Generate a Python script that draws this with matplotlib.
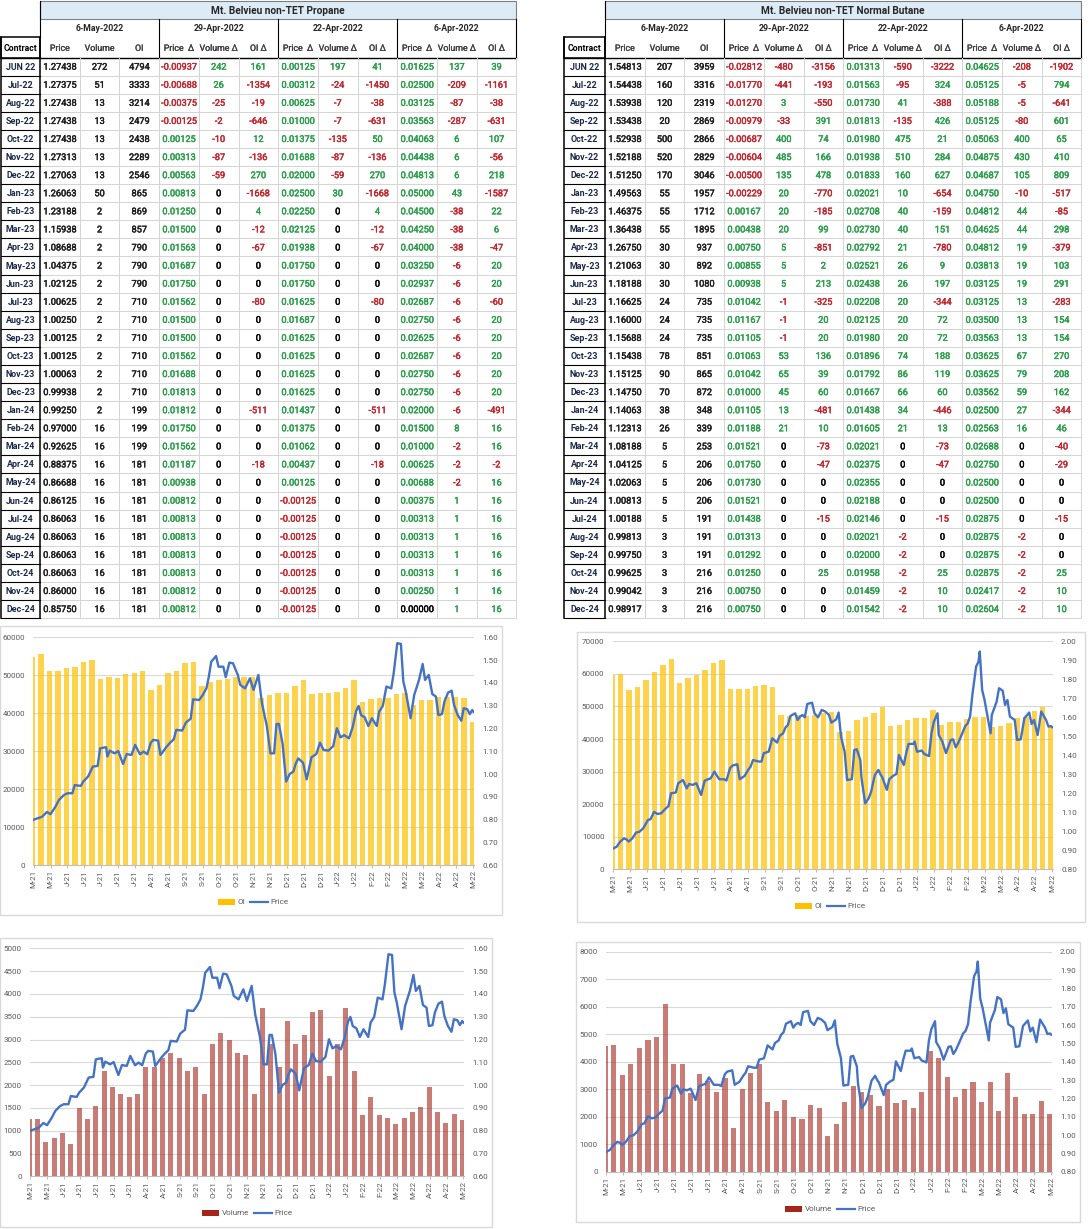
import numpy as np
import pandas as pd
import matplotlib
matplotlib.use("Agg")
import matplotlib.pyplot as plt
import matplotlib.dates as mdates
import matplotlib.patheffects as pe
from matplotlib.patches import Rectangle, Patch
from matplotlib.lines import Line2D
from matplotlib.ticker import FuncFormatter

plt.rcParams['font.family'] = ['Roboto', 'DejaVu Sans']

# ---------------- table data ----------------
contracts = ["JUN 22", "Jul-22", "Aug-22", "Sep-22", "Oct-22", "Nov-22", "Dec-22",
             "Jan-23", "Feb-23", "Mar-23", "Apr-23", "May-23", "Jun-23", "Jul-23",
             "Aug-23", "Sep-23", "Oct-23", "Nov-23", "Dec-23",
             "Jan-24", "Feb-24", "Mar-24", "Apr-24", "May-24", "Jun-24", "Jul-24",
             "Aug-24", "Sep-24", "Oct-24", "Nov-24", "Dec-24"]
date_heads = ["6-May-2022", "29-Apr-2022", "22-Apr-2022", "6-Apr-2022"]
col_heads = ["Price", "Volume", "OI",
             "Price  Δ", "Volume Δ", "OI Δ",
             "Price  Δ", "Volume Δ", "OI Δ",
             "Price  Δ", "Volume Δ", "OI Δ"]

# propane
prop_price = [1.27438, 1.27375, 1.27438, 1.27438, 1.27438, 1.27313, 1.27063,
              1.26063, 1.23188, 1.15938, 1.08688, 1.04375, 1.02125, 1.00625,
              1.00250, 1.00125, 1.00125, 1.00063, 0.99938,
              0.99250, 0.97000, 0.92625, 0.88375, 0.86688, 0.86125, 0.86063,
              0.86063, 0.86063, 0.86063, 0.86000, 0.85750]
prop_vol = [272, 51, 13, 13, 13, 13, 13,
            50, 2, 2, 2, 2, 2, 2, 2, 2, 2, 2, 2,
            2, 16, 16, 16, 16, 16, 16, 16, 16, 16, 16, 16]
prop_oi = [4794, 3333, 3214, 2479, 2438, 2289, 2546,
           865, 869, 857, 790, 790, 790, 710, 710, 710, 710, 710, 710,
           199, 199, 199, 181, 181, 181, 181, 181, 181, 181, 181, 181]
prop_dp1 = [-0.00937, -0.00688, -0.00375, -0.00125, 0.00125, 0.00313, 0.00563,
            0.00813, 0.01250, 0.01500, 0.01563, 0.01687, 0.01750, 0.01562,
            0.01500, 0.01500, 0.01562, 0.01688, 0.01813,
            0.01812, 0.01750, 0.01562, 0.01187, 0.00938, 0.00812, 0.00813,
            0.00813, 0.00813, 0.00813, 0.00812, 0.00812]
prop_dv1 = [242, 26, -25, -2, -10, -87, -59,
            0, 0, 0, 0, 0, 0, 0, 0, 0, 0, 0, 0,
            0, 0, 0, 0, 0, 0, 0, 0, 0, 0, 0, 0]
prop_doi1 = [161, -1354, -19, -646, 12, -136, 270,
             -1668, 4, -12, -67, 0, 0, -80, 0, 0, 0, 0, 0,
             -511, 0, 0, -18, 0, 0, 0, 0, 0, 0, 0, 0]
prop_dp2 = [0.00125, 0.00312, 0.00625, 0.01000, 0.01375, 0.01688, 0.02000,
            0.02500, 0.02250, 0.02125, 0.01938, 0.01750, 0.01750, 0.01625,
            0.01687, 0.01625, 0.01625, 0.01625, 0.01625,
            0.01437, 0.01375, 0.01062, 0.00437, 0.00125, -0.00125, -0.00125,
            -0.00125, -0.00125, -0.00125, -0.00125, -0.00125]
prop_dv2 = [197, -24, -7, -7, -135, -87, -59,
            30, 0, 0, 0, 0, 0, 0, 0, 0, 0, 0, 0,
            0, 0, 0, 0, 0, 0, 0, 0, 0, 0, 0, 0]
prop_doi2 = [41, -1450, -38, -631, 50, -136, 270,
             -1668, 4, -12, -67, 0, 0, -80, 0, 0, 0, 0, 0,
             -511, 0, 0, -18, 0, 0, 0, 0, 0, 0, 0, 0]
prop_dp3 = [0.01625, 0.02500, 0.03125, 0.03563, 0.04063, 0.04438, 0.04813,
            0.05000, 0.04500, 0.04250, 0.04000, 0.03250, 0.02937, 0.02687,
            0.02750, 0.02625, 0.02687, 0.02750, 0.02750,
            0.02000, 0.01500, 0.01000, 0.00625, 0.00688, 0.00375, 0.00313,
            0.00313, 0.00313, 0.00313, 0.00250, 0.00000]
prop_dv3 = [137, -209, -87, -287, 6, 6, 6,
            43, -38, -38, -38, -6, -6, -6, -6, -6, -6, -6, -6,
            -6, 8, -2, -2, -2, 1, 1, 1, 1, 1, 1, 1]
prop_doi3 = [39, -1161, -38, -631, 107, -56, 218,
             -1587, 22, 6, -47, 20, 20, -60, 20, 20, 20, 20, 20,
             -491, 16, 16, -2, 16, 16, 16, 16, 16, 16, 16, 16]

# normal butane
but_price = [1.54813, 1.54438, 1.53938, 1.53438, 1.52938, 1.52188, 1.51250,
             1.49563, 1.46375, 1.36438, 1.26750, 1.21063, 1.18188, 1.16625,
             1.16000, 1.15688, 1.15438, 1.15125, 1.14750,
             1.14063, 1.12313, 1.08188, 1.04125, 1.02063, 1.00813, 1.00188,
             0.99813, 0.99750, 0.99625, 0.99042, 0.98917]
but_vol = [207, 160, 120, 20, 500, 520, 170,
           55, 55, 55, 30, 30, 30, 24, 24, 24, 78, 90, 70,
           38, 26, 5, 5, 5, 5, 5, 3, 3, 3, 3, 3]
but_oi = [3959, 3316, 2319, 2869, 2866, 2829, 3046,
          1957, 1712, 1895, 937, 892, 1080, 735, 735, 735, 851, 865, 872,
          348, 339, 253, 206, 206, 206, 191, 191, 191, 216, 216, 216]
but_dp1 = [-0.02812, -0.01770, -0.01270, -0.00979, -0.00687, -0.00604, -0.00500,
           -0.00229, 0.00167, 0.00438, 0.00750, 0.00855, 0.00938, 0.01042,
           0.01167, 0.01105, 0.01063, 0.01042, 0.01000,
           0.01105, 0.01188, 0.01521, 0.01750, 0.01730, 0.01521, 0.01438,
           0.01313, 0.01292, 0.01250, 0.00750, 0.00750]
but_dv1 = [-480, -441, 3, -33, 400, 485, 135,
           20, 20, 20, 5, 5, 5, -1, -1, -1, 53, 65, 45,
           13, 21, 0, 0, 0, 0, 0, 0, 0, 0, 0, 0]
but_doi1 = [-3156, -193, -550, 391, 74, 166, 478,
            -770, -185, 99, -851, 2, 213, -325, 20, 20, 136, 39, 60,
            -481, 10, -73, -47, 0, 0, -15, 0, 0, 25, 0, 0]
but_dp2 = [0.01313, 0.01563, 0.01730, 0.01813, 0.01980, 0.01938, 0.01833,
           0.02021, 0.02708, 0.02730, 0.02792, 0.02521, 0.02438, 0.02208,
           0.02125, 0.01980, 0.01896, 0.01792, 0.01667,
           0.01438, 0.01605, 0.02021, 0.02375, 0.02355, 0.02188, 0.02146,
           0.02021, 0.02000, 0.01958, 0.01459, 0.01542]
but_dv2 = [-590, -95, 41, -135, 475, 510, 160,
           10, 40, 40, 21, 26, 26, 20, 20, 20, 74, 86, 66,
           34, 21, 0, 0, 0, 0, 0, -2, -2, -2, -2, -2]
but_doi2 = [-3222, 324, -388, 426, 21, 284, 627,
            -654, -159, 151, -780, 9, 197, -344, 72, 72, 188, 119, 60,
            -446, 13, -73, -47, 0, 0, -15, 0, 0, 25, 10, 10]
but_dp3 = [0.04625, 0.05125, 0.05188, 0.05125, 0.05063, 0.04875, 0.04687,
           0.04750, 0.04812, 0.04625, 0.04812, 0.03813, 0.03125, 0.03125,
           0.03500, 0.03563, 0.03625, 0.03625, 0.03562,
           0.02500, 0.02563, 0.02688, 0.02750, 0.02500, 0.02500, 0.02875,
           0.02875, 0.02875, 0.02875, 0.02417, 0.02604]
but_dv3 = [-208, -5, -5, -80, 400, 430, 105,
           -10, 44, 44, 19, 19, 19, 13, 13, 13, 67, 79, 59,
           27, 16, 0, 0, 0, 0, 0, -2, -2, -2, -2, -2]
but_doi3 = [-1902, 794, -641, 601, 65, 410, 809,
            -517, -85, 298, -379, 103, 291, -283, 154, 154, 270, 208, 162,
            -344, 46, -40, -29, 0, 0, -15, 0, 0, 25, 10, 10]

# ---------------- chart data (weekly bars, price line) ----------------
week_starts = pd.date_range("2021-05-03", periods=53, freq="7D")

prop_oi_wk = [54700, 55500, 51000, 51200, 51800, 52100, 53600, 54000, 49000, 49500,
              49400, 50300, 50700, 51200, 46100, 47500, 50500, 51000, 53300, 53600,
              47200, 48300, 48800, 49000, 49600, 49600, 49600, 44000, 44800, 45300,
              45400, 47200, 48800, 45100, 45300, 45400, 45700, 46600, 48800, 43100,
              43700, 43900, 43900, 45100, 45400, 42200, 43500, 43500, 44200, 44200,
              44200, 43900, 37600]
prop_vol_wk = [1250, 1250, 750, 850, 950, 700, 1500, 1250, 1550, 2300,
               1950, 1800, 1750, 1800, 2400, 2400, 2600, 2700, 2600, 2300,
               2400, 1800, 2900, 3150, 3000, 2700, 2650, 1800, 3700, 2900,
               2400, 3400, 2900, 3100, 3600, 3650, 2200, 2900, 3700, 2300,
               1350, 1730, 1350, 1270, 1150, 1280, 1400, 1530, 1950, 1420,
               1170, 1360, 1240]
but_oi_wk = [59500, 60000, 55100, 56100, 58000, 60700, 62700, 64500, 57100, 58800,
             59700, 61200, 63200, 64300, 55300, 55300, 55500, 56300, 56500, 55900,
             47400, 47100, 47400, 47100, 47400, 48100, 48400, 42000, 42600, 45900,
             46700, 47900, 49700, 44000, 44300, 45800, 46300, 46400, 48900, 44300,
             45300, 45200, 46100, 46700, 46700, 43600, 44000, 45000, 46400, 46700,
             48700, 49700, 43600]
but_vol_wk = [4570, 4600, 3500, 3900, 4500, 4800, 4900, 6100, 3900, 3900,
              2850, 3550, 3300, 2900, 3400, 1600, 3000, 3600, 3900, 2550,
              2200, 2600, 2000, 1930, 2430, 2300, 1300, 1740, 2520, 3100,
              2900, 2800, 2400, 3000, 2500, 2600, 2300, 2900, 4400, 4150,
              3450, 2730, 2990, 3260, 2550, 3280, 2200, 3580, 2700, 2100,
              2100, 2580, 2100]

prop_px_dates = [
    "2021-05-06", "2021-05-13", "2021-05-17", "2021-05-20", "2021-05-24", "2021-05-27",
    "2021-05-31", "2021-06-03", "2021-06-07", "2021-06-09", "2021-06-14", "2021-06-16",
    "2021-06-20", "2021-06-24", "2021-06-28", "2021-06-30", "2021-07-05", "2021-07-06",
    "2021-07-08", "2021-07-12", "2021-07-15", "2021-07-19", "2021-07-22", "2021-07-26",
    "2021-07-29", "2021-08-02", "2021-08-05", "2021-08-08", "2021-08-11", "2021-08-13",
    "2021-08-17", "2021-08-19", "2021-08-24", "2021-08-27", "2021-08-30", "2021-09-01",
    "2021-09-06", "2021-09-09", "2021-09-13", "2021-09-15", "2021-09-20", "2021-09-23",
    "2021-09-26", "2021-09-28", "2021-09-30", "2021-10-04", "2021-10-06", "2021-10-10",
    "2021-10-12", "2021-10-15", "2021-10-18", "2021-10-22", "2021-10-24", "2021-10-28",
    "2021-11-01", "2021-11-04", "2021-11-08", "2021-11-11", "2021-11-15", "2021-11-18",
    "2021-11-21", "2021-11-23", "2021-11-25", "2021-11-28", "2021-12-01", "2021-12-04",
    "2021-12-07", "2021-12-09", "2021-12-11", "2021-12-15", "2021-12-18", "2021-12-22",
    "2021-12-26", "2021-12-29", "2022-01-01", "2022-01-05", "2022-01-09", "2022-01-12",
    "2022-01-15", "2022-01-18", "2022-01-22", "2022-01-25", "2022-01-28", "2022-01-30",
    "2022-02-01", "2022-02-04", "2022-02-07", "2022-02-10", "2022-02-14", "2022-02-16",
    "2022-02-19", "2022-02-22", "2022-02-26", "2022-02-28", "2022-03-03", "2022-03-06",
    "2022-03-08", "2022-03-10", "2022-03-14", "2022-03-17", "2022-03-21", "2022-03-24",
    "2022-03-26", "2022-03-29", "2022-04-01", "2022-04-04", "2022-04-06", "2022-04-09",
    "2022-04-11", "2022-04-14", "2022-04-17", "2022-04-19", "2022-04-22", "2022-04-25",
    "2022-04-27", "2022-04-30", "2022-05-02", "2022-05-04", "2022-05-05"]
prop_px = [0.800, 0.813, 0.834, 0.824, 0.857, 0.887, 0.908, 0.916, 0.916, 0.952,
           0.948, 0.967, 0.989, 1.033, 1.036, 1.113, 1.118, 1.077, 1.103, 1.091,
           1.101, 1.044, 1.088, 1.084, 1.128, 1.087, 1.099, 1.087, 1.138, 1.150,
           1.147, 1.084, 1.120, 1.138, 1.153, 1.194, 1.191, 1.226, 1.243, 1.328,
           1.325, 1.347, 1.376, 1.427, 1.493, 1.518, 1.471, 1.471, 1.425, 1.489,
           1.486, 1.435, 1.391, 1.376, 1.420, 1.369, 1.435, 1.310, 1.211, 1.091,
           1.091, 1.220, 1.220, 1.135, 0.967, 1.001, 1.011, 1.047, 1.069, 1.050,
           0.977, 1.074, 1.088, 1.138, 1.106, 1.103, 1.123, 1.201, 1.161, 1.171,
           1.157, 1.205, 1.278, 1.299, 1.259, 1.249, 1.211, 1.245, 1.211, 1.274,
           1.299, 1.384, 1.376, 1.442, 1.574, 1.571, 1.406, 1.362, 1.245, 1.347,
           1.413, 1.483, 1.413, 1.435, 1.351, 1.340, 1.259, 1.263, 1.318, 1.357,
           1.366, 1.303, 1.259, 1.234, 1.289, 1.284, 1.263, 1.281, 1.274]

but_px_dates = [
    "2021-05-06", "2021-05-09", "2021-05-12", "2021-05-15", "2021-05-17", "2021-05-19",
    "2021-05-22", "2021-05-25", "2021-05-28", "2021-05-31", "2021-06-04", "2021-06-06",
    "2021-06-09", "2021-06-12", "2021-06-15", "2021-06-18", "2021-06-21", "2021-06-23",
    "2021-06-27", "2021-06-29", "2021-07-03", "2021-07-06", "2021-07-08", "2021-07-11",
    "2021-07-14", "2021-07-18", "2021-07-21", "2021-07-26", "2021-07-29", "2021-08-02",
    "2021-08-06", "2021-08-08", "2021-08-11", "2021-08-13", "2021-08-17", "2021-08-19",
    "2021-08-23", "2021-08-26", "2021-08-28", "2021-08-30", "2021-09-04", "2021-09-06",
    "2021-09-08", "2021-09-12", "2021-09-15", "2021-09-19", "2021-09-21", "2021-09-24",
    "2021-09-26", "2021-09-28", "2021-09-30", "2021-10-04", "2021-10-06", "2021-10-08",
    "2021-10-10", "2021-10-12", "2021-10-14", "2021-10-18", "2021-10-20", "2021-10-23",
    "2021-10-26", "2021-10-29", "2021-11-01", "2021-11-03", "2021-11-07", "2021-11-09",
    "2021-11-11", "2021-11-14", "2021-11-16", "2021-11-20", "2021-11-22", "2021-11-24",
    "2021-11-27", "2021-11-28", "2021-12-01", "2021-12-04", "2021-12-06", "2021-12-09",
    "2021-12-12", "2021-12-14", "2021-12-15", "2021-12-19", "2021-12-21", "2021-12-24",
    "2021-12-27", "2021-12-29", "2022-01-02", "2022-01-04", "2022-01-06", "2022-01-10",
    "2022-01-11", "2022-01-13", "2022-01-17", "2022-01-19", "2022-01-23", "2022-01-25",
    "2022-01-27", "2022-01-30", "2022-01-31", "2022-02-03", "2022-02-06", "2022-02-10",
    "2022-02-12", "2022-02-14", "2022-02-16", "2022-02-19", "2022-02-22", "2022-02-24",
    "2022-02-26", "2022-02-28", "2022-03-03", "2022-03-05", "2022-03-06", "2022-03-08",
    "2022-03-10", "2022-03-13", "2022-03-15", "2022-03-16", "2022-03-20", "2022-03-22",
    "2022-03-25", "2022-03-27", "2022-03-29", "2022-03-31", "2022-04-04", "2022-04-06",
    "2022-04-09", "2022-04-12", "2022-04-16", "2022-04-18", "2022-04-20", "2022-04-23",
    "2022-04-26", "2022-04-30", "2022-05-02", "2022-05-04", "2022-05-05"]
but_px = [0.909, 0.919, 0.946, 0.963, 0.958, 0.946, 0.963, 0.993, 0.998, 1.016,
          1.060, 1.063, 1.102, 1.091, 1.095, 1.116, 1.133, 1.200, 1.204, 1.253,
          1.270, 1.226, 1.249, 1.244, 1.253, 1.191, 1.267, 1.279, 1.314, 1.274,
          1.274, 1.267, 1.332, 1.346, 1.353, 1.274, 1.291, 1.323, 1.340, 1.375,
          1.367, 1.367, 1.411, 1.419, 1.489, 1.467, 1.502, 1.516, 1.547, 1.560,
          1.607, 1.621, 1.586, 1.604, 1.612, 1.600, 1.670, 1.677, 1.621, 1.600,
          1.639, 1.630, 1.612, 1.572, 1.589, 1.625, 1.498, 1.419, 1.270, 1.274,
          1.428, 1.432, 1.375, 1.279, 1.147, 1.174, 1.209, 1.296, 1.323, 1.296,
          1.288, 1.218, 1.274, 1.291, 1.302, 1.402, 1.349, 1.411, 1.460, 1.460,
          1.472, 1.419, 1.425, 1.407, 1.396, 1.516, 1.577, 1.621, 1.507, 1.472,
          1.411, 1.481, 1.484, 1.442, 1.463, 1.507, 1.554, 1.568, 1.604, 1.723,
          1.867, 1.893, 1.946, 1.744, 1.691, 1.586, 1.516, 1.612, 1.682, 1.753,
          1.740, 1.665, 1.691, 1.604, 1.586, 1.481, 1.484, 1.595, 1.625, 1.565,
          1.586, 1.507, 1.630, 1.586, 1.551, 1.554, 1.548]

# ---------------- styling ----------------
W, H = 1090, 1229
GREEN = "#2A9E4A"
RED = "#C3262E"
DARK = "#1E1E1E"
NAVY = "#1B2A4A"
GRID = "#D4D4D4"
BLUE = "#4472C4"
GOLD = "#FFC000"
BRICK = "#A5251B"
TICK_C = "#595959"
ROW_H = 18.08

fig = plt.figure(figsize=(W / 100, H / 100), dpi=100)
bg = fig.add_axes([0, 0, 1, 1])
bg.set_xlim(0, W)
bg.set_ylim(H, 0)
bg.axis("off")


def heavy(color, lw=0.3):
    # thicken thin glyphs a bit, the sheet font renders darker than Roboto
    return [pe.withStroke(linewidth=lw, foreground=color)]


def fmt_cell(v, kind):
    if kind in ("p", "dp"):
        s = f"{v:.5f}"
    else:
        s = f"{int(v)}"
    if kind in ("p", "n"):
        return s, DARK
    if v > 0:
        return s, GREEN
    if v < 0:
        return s, RED
    return s, "black"


def draw_table(ax, x0, cw, dw, title, cols):
    xs = [x0, x0 + cw] + [x0 + cw + dw * (k + 1) for k in range(12)]
    xe = xs[-1]
    y_t, y_d, y_h, y_0 = 1, 19, 37, 57.6
    n = len(contracts)
    y_end = y_0 + n * ROW_H

    ax.add_patch(Rectangle((xs[1], y_t), xe - xs[1], y_d - y_t, facecolor="#DDEBF7",
                           edgecolor="#7F7F7F", lw=0.8))
    ax.text((xs[1] + xe) / 2, (y_t + y_d) / 2 + 0.5, title, ha="center", va="center",
            fontsize=7.3, fontweight="bold", color="#262626")
    for g, lab in enumerate(date_heads):
        gx0, gx1 = xs[1 + 3 * g], xs[4 + 3 * g]
        ax.text((gx0 + gx1) / 2, (y_d + y_h) / 2 + 0.5, lab, ha="center", va="center",
                fontsize=6.3, fontweight="bold", color="#262626")
        ax.plot([gx1, gx1], [y_d, y_0], color="black", lw=0.8)
    ax.plot([xs[1], xs[1]], [y_t, y_h], color="black", lw=0.8)

    ax.add_patch(Rectangle((xs[0], y_h), cw, y_0 - y_h, fill=False, edgecolor="black", lw=1.1))
    ax.text((xs[0] + xs[1]) / 2, (y_h + y_0) / 2 + 1, "Contract", ha="center", va="center",
            fontsize=6.2, fontweight="bold", color="black")
    for k, lab in enumerate(col_heads):
        ax.text((xs[k + 1] + xs[k + 2]) / 2, (y_h + y_0) / 2 + 1, lab, ha="center",
                va="center", fontsize=6.3, color="#404040", path_effects=heavy("#404040", 0.2))
    ax.plot([xs[0], xe], [y_0, y_0], color="black", lw=1.0)

    for i in range(1, n + 1):
        y = y_0 + i * ROW_H
        ax.plot([xs[1], xe], [y, y], color=GRID, lw=0.7)
        ax.plot([xs[0], xs[1]], [y, y], color="black", lw=0.8)
    for x in xs[2:]:
        ax.plot([x, x], [y_0, y_end], color=GRID, lw=0.7)
    ax.plot([xs[0], xs[0]], [y_h, y_end], color="black", lw=1.1)
    ax.plot([xs[1], xs[1]], [y_h, y_end], color="black", lw=1.1)

    for i, c in enumerate(contracts):
        yc = y_0 + (i + 0.5) * ROW_H + 0.5
        ax.text((xs[0] + xs[1]) / 2, yc, c, ha="center", va="center", fontsize=6.4,
                fontweight="bold", color=NAVY)
        for k, (vals, kind) in enumerate(cols):
            s, col = fmt_cell(vals[i], kind)
            ax.text((xs[k + 1] + xs[k + 2]) / 2, yc, s, ha="center", va="center",
                    fontsize=6.6, color=col, path_effects=heavy(col))


prop_cols = [(prop_price, "p"), (prop_vol, "n"), (prop_oi, "n"),
             (prop_dp1, "dp"), (prop_dv1, "dn"), (prop_doi1, "dn"),
             (prop_dp2, "dp"), (prop_dv2, "dn"), (prop_doi2, "dn"),
             (prop_dp3, "dp"), (prop_dv3, "dn"), (prop_doi3, "dn")]
but_cols = [(but_price, "p"), (but_vol, "n"), (but_oi, "n"),
            (but_dp1, "dp"), (but_dv1, "dn"), (but_doi1, "dn"),
            (but_dp2, "dp"), (but_dv2, "dn"), (but_doi2, "dn"),
            (but_dp3, "dp"), (but_dv3, "dn"), (but_doi3, "dn")]

draw_table(bg, 1, 39, 39.7, "Mt. Belvieu non-TET Propane", prop_cols)
draw_table(bg, 564, 41, 39.7, "Mt. Belvieu non-TET Normal Butane", but_cols)

# ---------------- charts ----------------
tick_dates = pd.date_range("2021-05-06", periods=27, freq="14D")
x_lo = mdates.date2num(pd.Timestamp("2021-05-06")) - 0.3
x_hi = mdates.date2num(pd.Timestamp("2022-05-05")) + 0.5


def month_fmt(x, pos):
    d = mdates.num2date(x)
    return d.strftime("%b")[0] + "-" + d.strftime("%y")


def draw_chart(box, plot, bar_vals, bar_color, bar_alpha, bar_w, bar_label, px_dates,
               px_vals, left_max, left_step, r_lo, r_hi, r_n, leg_xy):
    bx0, by0, bx1, by1 = box
    bg.add_patch(Rectangle((bx0, by0), bx1 - bx0, by1 - by0, fill=False,
                           edgecolor="#D9D9D9", lw=1.0))
    px0, py0, px1, py1 = plot
    ax = fig.add_axes([px0 / W, 1 - py1 / H, (px1 - px0) / W, (py1 - py0) / H])
    ax.bar(week_starts, bar_vals, width=bar_w, align="edge", color=bar_color,
           alpha=bar_alpha, lw=0)
    ax.set_xlim(x_lo, x_hi)
    ax.set_ylim(0, left_max)
    ax.set_yticks(np.arange(0, left_max + 1, left_step))
    ax.yaxis.grid(True, color="#D9D9D9", lw=0.8)
    ax.set_axisbelow(True)
    ax.set_xticks(tick_dates)
    ax.xaxis.set_major_formatter(FuncFormatter(month_fmt))
    ax.tick_params(axis="x", labelsize=5.8, labelcolor=TICK_C, rotation=90, length=2,
                   color="#BFBFBF", pad=1.5)
    ax.tick_params(axis="y", labelsize=5.8, labelcolor=TICK_C, length=0, pad=6)
    for s in ("top", "left", "right"):
        ax.spines[s].set_visible(False)
    ax.spines["bottom"].set_color("#BFBFBF")

    ax2 = ax.twinx()
    ax2.plot(pd.to_datetime(px_dates), px_vals, color=BLUE, lw=1.7)
    ax2.set_ylim(r_lo, r_hi)
    ax2.set_yticks(np.linspace(r_lo, r_hi, r_n))
    ax2.yaxis.set_major_formatter(FuncFormatter(lambda v, p: f"{v:.2f}"))
    ax2.tick_params(axis="y", labelsize=5.8, labelcolor=TICK_C, length=0, pad=6)
    for s in ax2.spines.values():
        s.set_visible(False)
    ax2.set_xlim(x_lo, x_hi)

    handles = [Patch(facecolor=bar_color, lw=0),
               Line2D([], [], color=BLUE, lw=1.6)]
    fig.legend(handles, [bar_label, "Price"], loc="center",
               bbox_to_anchor=(leg_xy[0] / W, 1 - leg_xy[1] / H), ncol=2, frameon=False,
               fontsize=5.8, labelcolor=TICK_C, handlelength=2.2, handleheight=0.8,
               handletextpad=0.3, columnspacing=0.6)


draw_chart((0, 626, 502, 915), (33.3, 637.3, 474, 865.3), prop_oi_wk, GOLD, 0.7, 4.5, "OI",
           prop_px_dates, prop_px, 60000, 10000, 0.60, 1.60, 11, (253, 902))
draw_chart((577, 632, 1085, 922), (612.7, 641.3, 1052.7, 869.3), but_oi_wk, GOLD, 0.7, 4.5,
           "OI", but_px_dates, but_px, 70000, 10000, 0.80, 2.00, 13, (830, 906))
draw_chart((0, 938, 492, 1227), (30, 948.3, 464, 1176.3), prop_vol_wk, BRICK, 0.6, 4.2,
           "Volume", prop_px_dates, prop_px, 5000, 500, 0.60, 1.60, 11, (247, 1213))
draw_chart((576, 942, 1080, 1222), (606, 951.7, 1051.7, 1171.7), but_vol_wk, BRICK, 0.6, 4.2,
           "Volume", but_px_dates, but_px, 8000, 1000, 0.80, 2.00, 13, (830, 1209))

fig.savefig("out.png", dpi=100)
